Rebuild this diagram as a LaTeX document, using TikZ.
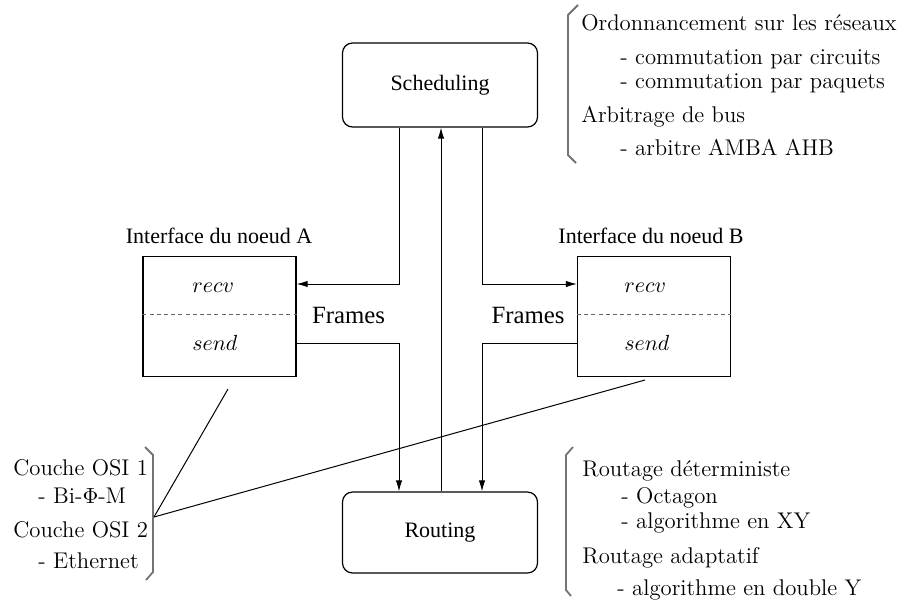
\documentclass[tikz,border=0pt]{standalone}
\usepackage{fontspec}
\newfontfamily\tms{Liberation Serif}
\usetikzlibrary{arrows.meta}
\begin{document}
\begin{tikzpicture}[x=0.5pt,y=-0.5pt,
  box/.style={draw, line width=0.6pt, rounded corners=5pt, minimum width=97.5pt,
    font=\tms\fontsize{11}{13}\selectfont},
  iface/.style={draw, line width=0.6pt, minimum width=76.5pt, minimum height=60pt, inner sep=0pt},
  lbl/.style={inner sep=0pt, font=\tms\fontsize{11}{13}\selectfont},
  frm/.style={inner sep=0pt, font=\tms\fontsize{12.4}{14}\selectfont},
  op/.style={anchor=base west, inner sep=0pt, font=\fontsize{10.7}{12}\selectfont},
  note/.style={anchor=base west, inner sep=0pt, font=\fontsize{11.35}{13}\selectfont},
  wire/.style={line width=0.5pt},
  arr/.style={wire, -{Latex[length=5.5pt,width=3.2pt]}},
  brace/.style={draw=black!55, line width=0.9pt},
  sep/.style={draw=black!60, line width=0.5pt, dash pattern=on 2pt off 1.6pt}
]
\useasboundingbox (0,0) rectangle (899,601);

% columns of the vertical wires
\coordinate (colL) at (399,0);
\coordinate (colM) at (441,0);
\coordinate (colR) at (482,0);

% main blocks
\node[box, minimum height=42pt] (sched) at (440,85) {Scheduling};
\node[box, minimum height=40.5pt] (route) at (440,532.5) {Routing};

% node interfaces
\node[iface] (ifA) at (219.5,316.5) {};
\node[iface] (ifB) at (654,316.5) {};
\draw[sep] (ifA.west |- 0,314) -- (ifA.east |- 0,314);
\draw[sep] (ifB.west |- 0,314) -- (ifB.east |- 0,314);
\node[op] (recvA) at (192,292) {$recv$};
\node[op] (sendA) at (192,350) {$send$};
\node[op] (recvB) at (624,292) {$recv$};
\node[op] (sendB) at (624,350) {$send$};
\node[lbl, anchor=base] (titA) at (219,243) {Interface du noeud A};
\node[lbl, anchor=base] (titB) at (651,243) {Interface du noeud B};
\node[frm] (frA) at (348.5,315) {Frames};
\node[frm] (frB) at (528,315) {Frames};

% wires
\draw[arr] (sched.south -| colL) |- (ifA.east |- 0,284);
\draw[arr] (sched.south -| colR) |- (ifB.west |- 0,284);
\draw[arr] (ifA.east |- 0,343) -| (route.north -| colL);
\draw[arr] (ifB.west |- 0,343) -| (route.north -| colR);
\draw[arr] (route.north -| colM) -- (sched.south -| colM);

% scheduling notes
\draw[brace] (578,5) -- (568,15) -- (568,155) -- (576,163);
\node[note] (n1) at (581,30) {Ordonnancement sur les réseaux};
\node[note] (n2) at (620,64) {- commutation par circuits};
\node[note] (n3) at (620,88) {- commutation par paquets};
\node[note] (n4) at (581,122) {Arbitrage de bus};
\node[note] (n5) at (620,155) {- arbitre AMBA AHB};

% routing notes
\draw[brace] (573,447) -- (566,455) -- (566,590) -- (571,596);
\node[note] (r1) at (582,476) {Routage déterministe};
\node[note] (r2) at (621,503) {- Octagon};
\node[note] (r3) at (621,528) {- algorithme en XY};
\node[note] (r4) at (582,563) {Routage adaptatif};
\node[note] (r5) at (617,595) {- algorithme en double Y};

% physical layer notes
\draw[brace] (145,447) -- (153,455) -- (153,572) -- (146,580);
\node[note] (o1) at (13,475) {Couche OSI 1};
\node[note] (o2) at (38,503) {- Bi-$\Phi$-M};
\node[note] (o3) at (13,537) {Couche OSI 2};
\node[note] (o4) at (38,568) {- Ethernet};

\coordinate (osi) at (154,517);
\coordinate (endA) at (228,389);
\coordinate (endB) at (645,380);
\draw[wire] (osi) -- (endA);
\draw[wire] (osi) -- (endB);
\end{tikzpicture}
\end{document}
